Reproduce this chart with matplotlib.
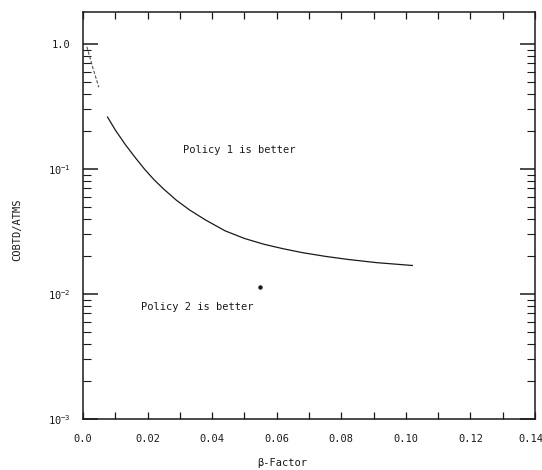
import matplotlib
matplotlib.use("Agg")
import matplotlib.pyplot as plt
import matplotlib.transforms as mtransforms
from matplotlib.ticker import FixedLocator, NullFormatter, LogLocator

plt.rcParams['font.family'] = ['DejaVu Sans Mono']
plt.rcParams['mathtext.default'] = 'regular'

# Data
beta_start = [0.0012, 0.0030, 0.0049]
ratio_start = [0.95, 0.65, 0.45]

beta_main = [0.0076, 0.010, 0.013, 0.016, 0.019, 0.022, 0.025, 0.029, 0.033, 0.038,
             0.044, 0.050, 0.056, 0.062, 0.068, 0.075, 0.082, 0.091, 0.102]
ratio_main = [0.26, 0.205, 0.158, 0.125, 0.100, 0.082, 0.069, 0.056, 0.047, 0.039,
              0.032, 0.0278, 0.025, 0.023, 0.0214, 0.0200, 0.0189, 0.0178, 0.0169]

dot_beta = [0.0549]
dot_ratio = [0.0113]

x_ticks = [0.0, 0.02, 0.04, 0.06, 0.08, 0.10, 0.12, 0.14]
x_ticklabels = ["0.0", "0.02", "0.04", "0.06", "0.08", "0.10", "0.12", "0.14"]
y_ticks = [1e-3, 1e-2, 1e-1, 1.0]
y_ticklabels = [r"10$^{-3}$", r"10$^{-2}$", r"10$^{-1}$", "1.0"]

ink = "#1a1a1a"

fig = plt.figure(figsize=(5.42, 4.70), dpi=100)
ax = fig.add_axes([83/542, 1 - 419/470, (535-83)/542, (419-12)/470])

ax.plot(beta_start, ratio_start, color="#555555", lw=0.8, ls=(0, (3, 1.5)))
ax.plot(beta_main, ratio_main, color=ink, lw=0.9)
ax.plot(dot_beta, dot_ratio, ls="none", marker="o", ms=2.2, color=ink)

ax.set_yscale("log")
ax.set_xlim(0.0, 0.14)
ax.set_ylim(1e-3, 1.8)

ax.xaxis.set_major_locator(FixedLocator(x_ticks))
ax.set_xticklabels(x_ticklabels)
ax.xaxis.set_minor_locator(FixedLocator([0.01 * i for i in range(15)]))
ax.yaxis.set_major_locator(FixedLocator(y_ticks))
ax.set_yticklabels(y_ticklabels)
ax.yaxis.set_minor_locator(LogLocator(base=10, subs=range(2, 10), numticks=20))
ax.yaxis.set_minor_formatter(NullFormatter())

ax.tick_params(axis="x", which="both", direction="in", top=True, bottom=True,
               length=5, width=0.9, color=ink, labelsize=7.5, pad=11, labelcolor=ink)
ax.tick_params(axis="y", which="major", direction="in", left=True, right=True,
               length=11, width=1.1, color=ink, labelsize=7.5, pad=9, labelcolor=ink)
ax.tick_params(axis="y", which="minor", direction="in", left=True, right=True,
               length=6, width=0.8, color=ink)

# keep the last x label inside the canvas
last = ax.get_xticklabels()[-1]
last.set_horizontalalignment("right")
offset = mtransforms.ScaledTranslation(6/72, 0, fig.dpi_scale_trans)
last.set_transform(last.get_transform() + offset)

for s in ax.spines.values():
    s.set_color(ink)
    s.set_linewidth(1.1)

ax.text(0.031, 0.141, "Policy 1 is better", fontsize=7.5, color=ink, va="center", ha="left")
ax.text(0.0179, 0.0079, "Policy 2 is better", fontsize=7.5, color=ink, va="center", ha="left")

fig.text(282/542, 1 - 463/470, "β-Factor", fontsize=7.5, color=ink, ha="center", va="center")
fig.text(17/542, 1 - 230/470, "COBTD/ATMS", fontsize=7.5, color=ink, rotation=90,
         ha="center", va="center")

fig.savefig("out.png", dpi=100)
